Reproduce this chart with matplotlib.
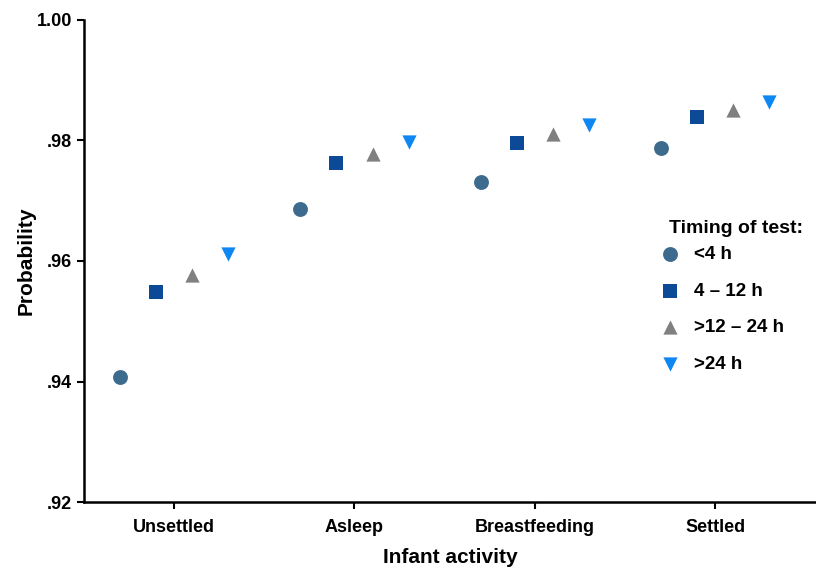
import numpy as np
import matplotlib.pyplot as plt

plt.rcParams['font.family'] = ['Liberation Sans', 'DejaVu Sans']
plt.rcParams['font.weight'] = 'bold'

activities = ['Unsettled', 'Asleep', 'Breastfeeding', 'Settled']
timing = ['<4 h', '4 \u2013 12 h', '>12 \u2013 24 h', '>24 h']

# probability per timing group, ordered like activities
p_lt4 = [0.9408, 0.9687, 0.9731, 0.9787]
p_4_12 = [0.9548, 0.9762, 0.9795, 0.9839]
p_12_24 = [0.9576, 0.9777, 0.9810, 0.9850]
p_gt24 = [0.9611, 0.9797, 0.9825, 0.9864]

series = [p_lt4, p_4_12, p_12_24, p_gt24]
markers = ['o', 's', '^', 'v']
colors = ['#3d6b8e', '#0c4a98', '#808080', '#0f87f2']
offsets = [-0.3, -0.1, 0.1, 0.3]
sizes = [115, 105, 105, 105]

fig = plt.figure(figsize=(8.16, 5.68), dpi=100)
ax = fig.add_axes([0.103, 0.116, 0.897, 0.849])

x = np.arange(len(activities))
for vals, m, c, off, s, lab in zip(series, markers, colors, offsets, sizes, timing):
    ax.scatter(x + off, vals, marker=m, color=c, s=s, label=lab, linewidths=0, zorder=3)

ax.set_xlim(-0.5, 3.56)
ax.set_ylim(0.92, 1.00)
ax.set_yticks([0.92, 0.94, 0.96, 0.98, 1.00])
ax.set_yticklabels(['.92', '.94', '.96', '.98', '1.00'])
ax.set_xticks(x)
ax.set_xticklabels(activities)
ax.tick_params(axis='both', labelsize=13, width=1.5, length=5, direction='out')
ax.tick_params(axis='x', pad=7)

for side in ['top', 'right']:
    ax.spines[side].set_visible(False)
for side in ['left', 'bottom']:
    ax.spines[side].set_linewidth(1.8)

ax.set_xlabel('Infant activity', fontsize=15, fontweight='bold', labelpad=9)
ax.set_ylabel('Probability', fontsize=15, fontweight='bold', labelpad=1)

ax.text(0.799, 0.568, 'Timing of test:', transform=ax.transAxes, fontsize=14,
        fontweight='bold', ha='left', va='center')
leg = ax.legend(loc='upper left', bbox_to_anchor=(0.775, 0.532),
                frameon=False, fontsize=13.5, labelspacing=1.05,
                handletextpad=0.3, borderaxespad=0, borderpad=0)

fig.savefig('out.png', dpi=100)
